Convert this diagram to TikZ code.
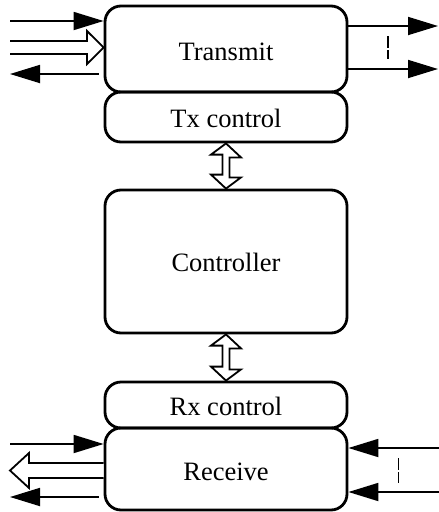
\documentclass[tikz,border=0pt]{standalone}
\usepackage{fontspec}
\setmainfont{Liberation Serif}
\usetikzlibrary{calc,arrows.meta}
\begin{document}
\begin{tikzpicture}[x=1pt,y=-1pt,
  box/.style={draw,line width=2.8pt,rounded corners=16pt,inner sep=0pt,minimum width=242pt},
  lbl/.style={anchor=base,font=\fontsize{26.5}{31}\selectfont,inner sep=0pt},
  sig/.style={line width=1.8pt},
  fillarrow/.style={sig,-{Triangle[length=30pt,width=18pt]}},
  hollow/.style={line width=1.8pt,fill=white,line join=miter},
  tickline/.style={line width=1.4pt}
]
\useasboundingbox (0,0) rectangle (439,512);
% boxes
\node[box,minimum height=86pt] (tx) at (226,49) {};
\node[box,minimum height=50pt] (txc) at (226,117) {};
\node[box,minimum height=143pt] (ctl) at (226,261.5) {};
\node[box,minimum height=46pt] (rxc) at (226,405) {};
\node[box,minimum height=82pt] (rx) at (226,469) {};
% labels
\node[lbl] (txl) at (226,60.5) {Transmit};
\node[lbl] (txcl) at (226,127) {Tx control};
\node[lbl] (ctll) at (226,271) {Controller};
\node[lbl] (rxcl) at (226,415) {Rx control};
\node[lbl] (rxl) at (226,480) {Receive};
% Transmit left side
\coordinate (ti1) at (10,21);
\draw[fillarrow] (ti1) -- (ti1 -| tx.west);
\coordinate (th) at (10,47.5);
\draw[hollow] (10,41) -- (87,41) -- (87,31) -- (th -| tx.west) -- (87,64) -- (87,54) -- (10,54);
\coordinate (to1) at (10,74);
\draw[fillarrow] ($(to1 -| tx.west)+(-5,0)$) -- (to1);
% Transmit right side
\coordinate (tr1) at (438,26);
\coordinate (tr2) at (438,69);
\draw[fillarrow] (tr1 -| tx.east) -- (tr1);
\draw[fillarrow] (tr2 -| tx.east) -- (tr2);
\draw[tickline] (388,36) -- (388,48) (388,50) -- (388,59);
% double arrows
\draw[hollow] (txc.south) -- ++(15,14) -- ++(-11.5,0) -- ++(0,20) -- ++(11.5,0) -- (ctl.north) -- ++(-15,-14) -- ++(11.5,0) -- ++(0,-20) -- ++(-11.5,0) -- cycle;
\draw[hollow] (ctl.south) -- ++(15,14) -- ++(-11.5,0) -- ++(0,21) -- ++(11.5,0) -- (rxc.north) -- ++(-15,-14) -- ++(11.5,0) -- ++(0,-21) -- ++(-11.5,0) -- cycle;
% Receive left side
\coordinate (ri1) at (10,444);
\draw[fillarrow] (ri1) -- (ri1 -| rx.west);
\coordinate (rh) at (10,470.5);
\draw[hollow] ($(rh -| rx.west)+(0,-7.5)$) -- (29,463) -- (29,453) -- (rh) -- (29,488) -- (29,478) -- ($(rh -| rx.west)+(0,7.5)$);
\coordinate (ro1) at (10,497);
\draw[fillarrow] ($(ro1 -| rx.west)+(-5,0)$) -- (ro1);
% Receive right side
\coordinate (rr1) at (439,448);
\coordinate (rr2) at (439,492);
\draw[fillarrow] (rr1) -- (rr1 -| rx.east);
\draw[fillarrow] (rr2) -- (rr2 -| rx.east);
\draw[tickline] (398.5,458) -- (398.5,470) (398.5,472) -- (398.5,483);
\end{tikzpicture}
\end{document}
